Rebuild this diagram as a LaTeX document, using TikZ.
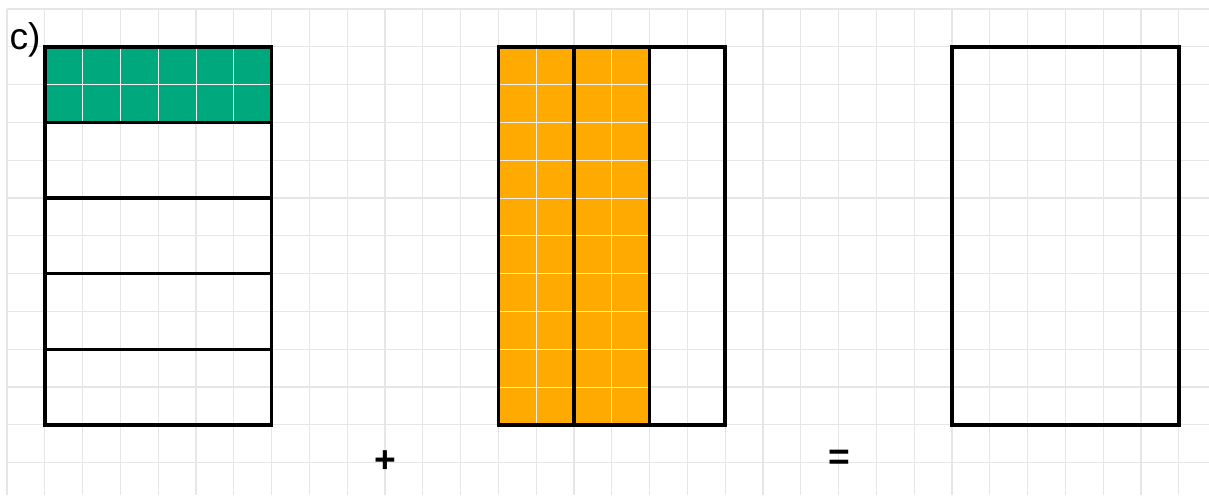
\documentclass[tikz,border=0pt]{standalone}
\usepackage{fontspec}
\setmainfont{Liberation Sans}
\definecolor{paper}{RGB}{230, 230, 230}
\definecolor{part}{RGB}{0, 168, 126}
\definecolor{share}{RGB}{255, 170, 0}
\definecolor{fine}{RGB}{240, 240, 240}
\usetikzlibrary{positioning}

\begin{document}
\begin{tikzpicture}[
        sheet/.style={draw=paper, line width=0.9pt},
        frame/.style={draw=black, line width=2.6pt},
        innergrid/.style={draw=fine, line width=0.7pt},
        sign/.style={font=\fontsize{28}{28}\selectfont, inner sep=0pt},
    ]
    \useasboundingbox (-0.185,-12.86) rectangle (31.8,0.24);
    \foreach \x in {0,...,31} \draw[sheet] (\x,-12.86) -- (\x,0);
    \foreach \y in {0,...,12} \draw[sheet] (0,-\y) -- (31.8,-\y);

    \fill[part] (1,-3) rectangle (7,-1);
    \draw[innergrid] (1,-3) grid (7,-1);
    \fill[share] (13,-11) rectangle (17,-1);
    \draw[innergrid] (13,-11) grid (17,-1);

    \draw[frame] (1,-11) rectangle (7,-1);
    \foreach \y in {3,5,7,9} \draw[frame] (1,-\y) -- (7,-\y);
    \draw[frame] (13,-11) rectangle (19,-1);
    \foreach \x in {15,17} \draw[frame] (\x,-11) -- (\x,-1);
    \draw[frame] (25,-11) rectangle (31,-1);

    \node[sign, anchor=base west] (task) at (0.06,-1.08) {c)};
    \node[sign, font=\fontsize{28}{28}\selectfont\bfseries] (plus) at (10,-11.98) {+};
    \node[sign, font=\fontsize{28}{28}\selectfont\bfseries] (equals) at (22.02,-11.92) {=};
\end{tikzpicture}
\end{document}
